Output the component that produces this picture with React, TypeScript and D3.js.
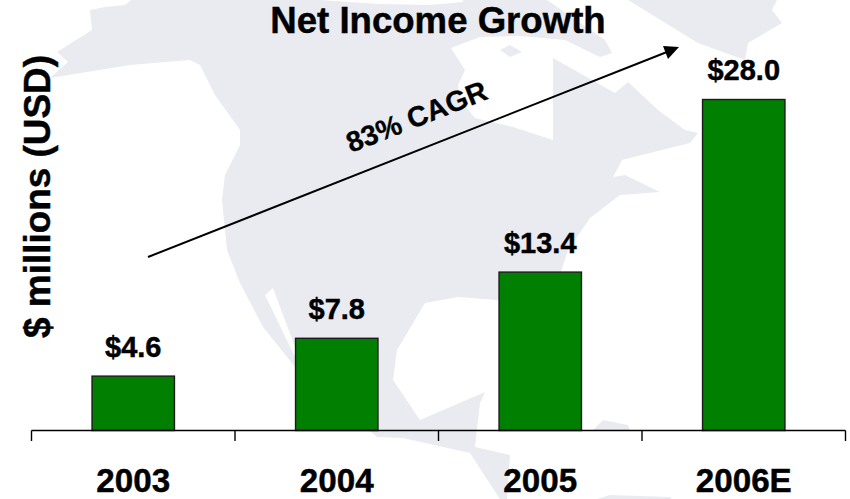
import React from "react";
import * as d3 from "d3";

// Net income by fiscal year, $ millions
const years = ["2003", "2004", "2005", "2006E"];
const netIncome = [4.6, 7.8, 13.4, 28.0];

const WIDTH = 850;
const HEIGHT = 499;
const FONT = "'Liberation Sans', Arial, sans-serif";
const LAND = "#E9EBF0";

// Faded map of North America behind the plot
const mainland: [number, number][] = [
  [90, 10], [105, 7], [125, 5], [131, 0], [320, 0], [378, 4], [430, 5], [463, 2], [463, 0], [547, 0],
  [605, 40], [612, 53], [600, 57], [565, 40], [520, 36], [480, 37], [451, 48], [465, 70], [458, 85],
  [460, 100], [475, 118], [513, 127], [553, 140], [553, 58], [615, 93], [628, 82], [658, 110], [685, 130],
  [698, 133], [690, 143], [622, 160], [613, 177], [625, 175], [660, 192], [620, 195], [590, 218], [568, 250],
  [555, 290], [498, 300], [458, 297], [425, 303], [397, 350], [393, 380], [420, 420], [485, 392], [480, 403],
  [475, 447], [510, 455], [507, 499], [500, 499], [483, 473], [470, 453], [403, 438], [377, 437], [295, 367],
  [263, 327], [240, 283], [227, 250], [222, 200], [225, 175], [240, 145], [240, 130], [215, 95], [200, 65],
  [190, 60], [130, 65], [50, 78], [68, 62], [57, 52], [92, 30],
];
const greenland: [number, number][] = [
  [628, 0], [698, 43], [745, 60], [748, 43], [782, 23], [772, 10], [777, 0],
];
const bayIsland: [number, number][] = [[500, 50], [510, 45], [522, 52], [510, 57]];
const westSlit: [number, number][] = [[265, 295], [273, 288], [295, 347], [295, 357]];
const cubaHump: [number, number][] = [[593, 430], [603, 420], [628, 425], [630, 430]];
const isthmus: [number, number][] = [[597, 499], [610, 495], [670, 497], [672, 499]];

const growthArrow = { x1: 148, y1: 257, x2: 672, y2: 50 };

export default function App() {
  const x = d3
    .scaleBand<string>()
    .domain(years)
    .range([31.5, 845.5])
    .paddingInner(0.595)
    .paddingOuter(0.2975);
  const y = d3.scaleLinear().domain([0, 28]).range([430.5, 99.5]);
  const outline = d3.line().curve(d3.curveLinearClosed);
  const step = x.step();
  const tickXs = d3.range(years.length + 1).map((i) => 31.5 + i * step);

  return (
    <svg
      width={WIDTH}
      height={HEIGHT}
      viewBox={`0 0 ${WIDTH} ${HEIGHT}`}
      style={{ position: "absolute", left: 0, top: 0, background: "#fff" }}
      fontFamily={FONT}
      fontWeight="bold"
    >
      <g fill={LAND}>
        <path d={outline(mainland) ?? ""} />
        <path d={outline(greenland) ?? ""} />
        <path d={outline(cubaHump) ?? ""} />
        <path d={outline(isthmus) ?? ""} />
      </g>
      <path d={outline(westSlit) ?? ""} fill="#fff" />
      <path d={outline(bayIsland) ?? ""} fill={LAND} />

      <g stroke="#000" strokeWidth={0.45}>
        <text x={438} y={33} textAnchor="middle" fontSize={36.6}>Net Income Growth</text>
        <text transform="translate(50,196.5) rotate(-90)" textAnchor="middle" fontSize={36.9}>$ millions (USD)</text>
      </g>

      {years.map((yr, i) => {
        const bx = x(yr) ?? 0;
        const bw = x.bandwidth();
        return (
          <g key={yr}>
            <rect x={bx} y={y(netIncome[i])} width={bw} height={y(0) - y(netIncome[i])} fill="#007f00" stroke="#1c1c1c" strokeWidth={1.4} />
            <text x={bx + bw / 2} y={y(netIncome[i]) - 19.5} textAnchor="middle" fontSize={29} stroke="#000" strokeWidth={0.45}>
              {"$" + netIncome[i].toFixed(1)}
            </text>
            <text x={bx + bw / 2} y={491.5} textAnchor="middle" fontSize={33.2} stroke="#000" strokeWidth={0.45}>{yr}</text>
          </g>
        );
      })}

      <line x1={tickXs[0]} x2={tickXs[tickXs.length - 1]} y1={y(0)} y2={y(0)} stroke="#000" strokeWidth={1.4} />
      {tickXs.map((t) => (
        <line key={t} x1={t} x2={t} y1={y(0)} y2={441} stroke="#000" strokeWidth={1.4} />
      ))}

      <line {...growthArrow} stroke="#000" strokeWidth={2} />
      <polygon points="679,47 663,46 668,59" fill="#000" />
      <text transform="translate(351,153) rotate(-21.5)" fontSize={28.5} stroke="#000" strokeWidth={0.3}>83% CAGR</text>
    </svg>
  );
}
